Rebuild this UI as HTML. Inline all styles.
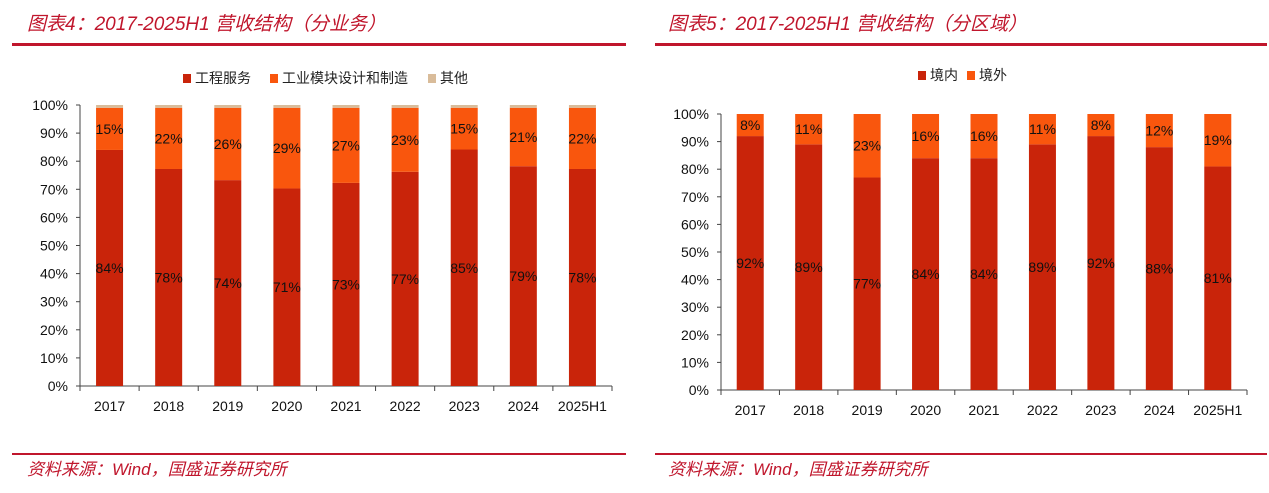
<!DOCTYPE html>
<html><head><meta charset="utf-8"><style>
body{margin:0;background:#fff;}
svg text{font-family:"Liberation Sans","Noto Sans CJK SC",sans-serif;}
</style></head><body>
<svg id="s" width="1269" height="488" viewBox="0 0 1269 488" xmlns="http://www.w3.org/2000/svg">
<text x="27" y="30" font-size="19" font-style="italic" fill="#C0162C">图表4：2017-2025H1 营收结构（分业务）</text>
<rect x="12" y="43" width="614" height="3" fill="#C0162C"/>
<text x="668" y="30" font-size="19" font-style="italic" fill="#C0162C">图表5：2017-2025H1 营收结构（分区域）</text>
<rect x="655" y="43" width="612" height="3" fill="#C0162C"/>
<rect x="12" y="453" width="614" height="2" fill="#C0162C"/>
<rect x="655" y="453" width="612" height="2" fill="#C0162C"/>
<text x="27" y="475" font-size="17" font-style="italic" fill="#C0162C">资料来源：Wind，国盛证券研究所</text>
<text x="668" y="475" font-size="17" font-style="italic" fill="#C0162C">资料来源：Wind，国盛证券研究所</text>
<g id="L"></g>
<g id="R"></g>
</svg>
<script>
const categories=["2017","2018","2019","2020","2021","2022","2023","2024","2025H1"];
const engineering=[84,78,74,71,73,77,85,79,78];
const modules=[15,22,26,29,27,23,15,21,22];
const others=[1,1,1,1,1,1,1,1,1];
const domestic=[92,89,77,84,84,89,92,88,81];
const overseas=[8,11,23,16,16,11,8,12,19];
const yTicks=[0,10,20,30,40,50,60,70,80,90,100];
const C1="#C9240A",C2="#F9560D",C3="#D9BC9A";
const NS="http://www.w3.org/2000/svg";
function mk(p,t,a,txt){const e=document.createElementNS(NS,t);for(const k in a)e.setAttribute(k,a[k]);if(txt!=null)e.textContent=txt;p.appendChild(e);return e;}
function chart(g,x0,x1,yTop,yBot,series,colors,names,legY,legXs){
  const y=v=>yBot-(yBot-yTop)*v/100;
  const step=(x1-x0)/categories.length;
  const xc=i=>x0+step*(i+0.5);
  names.forEach((n,k)=>{
    const lx=legXs[k];
    const r=mk(g,"rect",{x:lx,y:legY-9,width:8,height:9,fill:colors[k]});
    
    const t=mk(g,"text",{x:lx+12,y:legY,"font-size":14,fill:"#222"},n);
    
  });
  const ax=mk(g,"line",{x1:x0,y1:yTop,x2:x0,y2:yBot,stroke:"#444"});
  
  yTicks.forEach(v=>{
    mk(g,"line",{x1:x0-4,y1:y(v),x2:x0,y2:y(v),stroke:"#444"});
    const t=mk(g,"text",{x:x0-12,y:y(v)+5,"font-size":14,"text-anchor":"end",fill:"#111"},v+"%");
    
  });
  const xa=mk(g,"line",{x1:x0,y1:yBot,x2:x1,y2:yBot,stroke:"#444"});
  
  for(let i=0;i<=categories.length;i++)mk(g,"line",{x1:x0+step*i,y1:yBot,x2:x0+step*i,y2:yBot+5,stroke:"#444"});
  categories.forEach((c,i)=>{
    const t=mk(g,"text",{x:xc(i),y:yBot+25,"font-size":14,"text-anchor":"middle",fill:"#111"},c);
    
    let total=0;series.forEach(s=>total+=s[i]);
    const sc=100/total;
    let acc=0;
    series.forEach((s,k)=>{
      const v=s[i]*sc;
      const r=mk(g,"rect",{x:xc(i)-13.5,y:y(acc+v),width:27,height:y(acc)-y(acc+v),fill:colors[k]});
      
      if(k<2){
        const lb=mk(g,"text",{x:xc(i),y:y(acc+v/2)+5,"font-size":14,"text-anchor":"middle",fill:"#111"},s[i]+"%");
        
      }
      acc+=v;
    });
  });
}
chart(document.getElementById("L"),80,612,105,386,[engineering,modules,others],[C1,C2,C3],["工程服务","工业模块设计和制造","其他"],83,[183,270,428]);
chart(document.getElementById("R"),721,1247,114,390,[domestic,overseas],[C1,C2],["境内","境外"],80,[918,967]);
</script>
</body></html>
